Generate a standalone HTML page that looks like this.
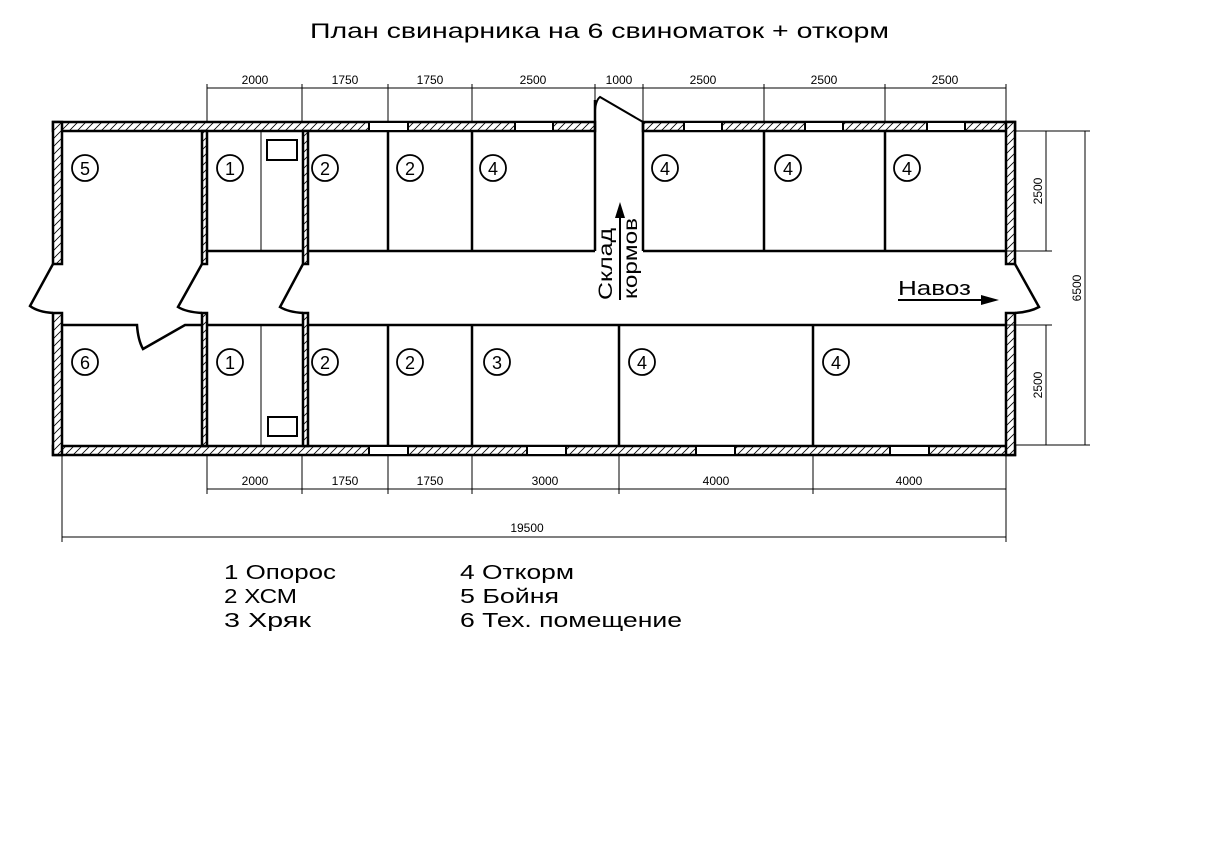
<!DOCTYPE html>
<html><head><meta charset="utf-8"><style>html,body{margin:0;padding:0;background:#fff}svg{display:block}</style></head>
<body>
<svg width="1213" height="863" viewBox="0 0 1213 863" xmlns="http://www.w3.org/2000/svg" font-family="Liberation Sans, DejaVu Sans, sans-serif">
<defs>
<pattern id="h" width="8" height="8" patternUnits="userSpaceOnUse">
<rect width="8" height="8" fill="#fff"/>
<path d="M0,8 L8,0 M-1,1 L1,-1 M7,9 L9,7" stroke="#000" stroke-width="0.8"/>
</pattern>
</defs>
<rect width="1213" height="863" fill="#fff"/>
<text x="310" y="38" font-size="21" textLength="579" lengthAdjust="spacingAndGlyphs">План свинарника на 6 свиноматок + откорм</text>

<g stroke="#000" stroke-width="2.5" fill="url(#h)">
<rect x="53" y="122" width="542" height="9"/>
<rect x="643" y="122" width="372" height="9"/>
<rect x="53" y="446" width="962" height="9"/>
<rect x="53" y="122" width="9" height="142"/>
<rect x="53" y="313" width="9" height="142"/>
<rect x="1006" y="122" width="9" height="142"/>
<rect x="1006" y="313" width="9" height="142"/>
<rect x="202" y="131" width="5" height="133"/>
<rect x="202" y="313" width="5" height="133"/>
<rect x="303" y="131" width="5" height="133"/>
<rect x="303" y="313" width="5" height="133"/>
</g>
<g fill="#fff" stroke="#000" stroke-width="2">
<rect x="369" y="122" width="39" height="9"/>
<rect x="515" y="122" width="38" height="9"/>
<rect x="684" y="122" width="38" height="9"/>
<rect x="805" y="122" width="38" height="9"/>
<rect x="927" y="122" width="38" height="9"/>
<rect x="369" y="446" width="39" height="9"/>
<rect x="527" y="446" width="39" height="9"/>
<rect x="696" y="446" width="39" height="9"/>
<rect x="890" y="446" width="39" height="9"/>
</g>

<g stroke="#000" stroke-width="2.5" fill="none">
<line x1="207" y1="251" x2="303" y2="251"/>
<line x1="308" y1="251" x2="595" y2="251"/>
<line x1="643" y1="251" x2="1006" y2="251"/>
<line x1="388" y1="131" x2="388" y2="251"/>
<line x1="472" y1="131" x2="472" y2="251"/>
<line x1="595" y1="100" x2="595" y2="251"/>
<line x1="643" y1="122" x2="643" y2="251"/>
<line x1="764" y1="131" x2="764" y2="251"/>
<line x1="885" y1="131" x2="885" y2="251"/>
<path d="M62,325 L137,325 Q138,340 143,349 L185,325 L202,325"/>
<line x1="207" y1="325" x2="303" y2="325"/>
<line x1="308" y1="325" x2="1006" y2="325"/>
<line x1="388" y1="325" x2="388" y2="446"/>
<line x1="472" y1="325" x2="472" y2="446"/>
<line x1="619" y1="325" x2="619" y2="446"/>
<line x1="813" y1="325" x2="813" y2="446"/>
<path d="M53,264 L30,306 Q38,312 53,313"/>
<path d="M202,264 L178,307 Q186,312 202,313"/>
<path d="M303,264 L280,307 Q288,312 303,313"/>
<path d="M1015,264 L1039,307 Q1030,312 1015,313"/>
<path d="M595,110 Q596,100 600,97 L643,122" stroke-width="2"/>
<rect x="267" y="140" width="30" height="20" stroke-width="2"/>
<rect x="268" y="417" width="29" height="19" stroke-width="2"/>
</g>
<g stroke="#000" stroke-width="1">
<line x1="261" y1="131" x2="261" y2="251"/>
<line x1="261" y1="325" x2="261" y2="446"/>
</g>

<g fill="none" stroke="#000" stroke-width="1.8">
<circle cx="85" cy="168" r="13"/><circle cx="230" cy="168" r="13"/><circle cx="325" cy="168" r="13"/><circle cx="410" cy="168" r="13"/><circle cx="493" cy="168" r="13"/><circle cx="665" cy="168" r="13"/><circle cx="788" cy="168" r="13"/><circle cx="907" cy="168" r="13"/>
<circle cx="85" cy="362" r="13"/><circle cx="230" cy="362" r="13"/><circle cx="325" cy="362" r="13"/><circle cx="410" cy="362" r="13"/><circle cx="497" cy="362" r="13"/><circle cx="642" cy="362" r="13"/><circle cx="836" cy="362" r="13"/>
</g>
<g font-size="18" text-anchor="middle">
<text x="85" y="175">5</text><text x="230" y="175">1</text><text x="325" y="175">2</text><text x="410" y="175">2</text><text x="493" y="175">4</text><text x="665" y="175">4</text><text x="788" y="175">4</text><text x="907" y="175">4</text>
<text x="85" y="369">6</text><text x="230" y="369">1</text><text x="325" y="369">2</text><text x="410" y="369">2</text><text x="497" y="369">3</text><text x="642" y="369">4</text><text x="836" y="369">4</text>
</g>

<line x1="620" y1="300" x2="620" y2="212" stroke="#000" stroke-width="2"/>
<polygon points="620,202 615,218 625,218" fill="#000"/>
<text transform="translate(612,300) rotate(-90)" font-size="19" textLength="72" lengthAdjust="spacingAndGlyphs">Склад</text>
<text transform="translate(637,299) rotate(-90)" font-size="19" textLength="81" lengthAdjust="spacingAndGlyphs">кормов</text>
<text x="898" y="295" font-size="20" textLength="73" lengthAdjust="spacingAndGlyphs">Навоз</text>
<line x1="898" y1="300" x2="985" y2="300" stroke="#000" stroke-width="2"/>
<polygon points="999,300 981,295 981,305" fill="#000"/>

<g stroke="#000" stroke-width="1" fill="none">
<line x1="207" y1="88" x2="1006" y2="88"/>
<line x1="207" y1="84" x2="207" y2="122"/><line x1="302" y1="84" x2="302" y2="122"/><line x1="388" y1="84" x2="388" y2="122"/><line x1="472" y1="84" x2="472" y2="122"/><line x1="595" y1="84" x2="595" y2="100"/><line x1="643" y1="84" x2="643" y2="122"/><line x1="764" y1="84" x2="764" y2="122"/><line x1="885" y1="84" x2="885" y2="122"/><line x1="1006" y1="84" x2="1006" y2="122"/>
<line x1="207" y1="489" x2="1006" y2="489"/>
<line x1="207" y1="455" x2="207" y2="494"/><line x1="302" y1="455" x2="302" y2="494"/><line x1="388" y1="455" x2="388" y2="494"/><line x1="472" y1="455" x2="472" y2="494"/><line x1="619" y1="455" x2="619" y2="494"/><line x1="813" y1="455" x2="813" y2="494"/><line x1="1006" y1="455" x2="1006" y2="542"/>
<line x1="62" y1="455" x2="62" y2="542"/>
<line x1="62" y1="537" x2="1006" y2="537"/>
<line x1="1015" y1="131" x2="1090" y2="131"/><line x1="1015" y1="445" x2="1090" y2="445"/>
<line x1="1006" y1="251" x2="1052" y2="251"/><line x1="1006" y1="325" x2="1052" y2="325"/>
<line x1="1046" y1="131" x2="1046" y2="251"/><line x1="1046" y1="325" x2="1046" y2="445"/>
<line x1="1085" y1="131" x2="1085" y2="445"/>
</g>
<g font-size="12" text-anchor="middle">
<text x="255" y="84">2000</text><text x="345" y="84">1750</text><text x="430" y="84">1750</text><text x="533" y="84">2500</text><text x="619" y="84">1000</text><text x="703" y="84">2500</text><text x="824" y="84">2500</text><text x="945" y="84">2500</text>
<text x="255" y="485">2000</text><text x="345" y="485">1750</text><text x="430" y="485">1750</text><text x="545" y="485">3000</text><text x="716" y="485">4000</text><text x="909" y="485">4000</text>
<text x="527" y="532">19500</text>
<text transform="translate(1042,191) rotate(-90)">2500</text>
<text transform="translate(1042,385) rotate(-90)">2500</text>
<text transform="translate(1081,288) rotate(-90)">6500</text>
</g>

<g font-size="20">
<text x="224" y="579" textLength="112" lengthAdjust="spacingAndGlyphs">1 Опорос</text>
<text x="224" y="603" textLength="73" lengthAdjust="spacingAndGlyphs">2 ХСМ</text>
<text x="224" y="627" textLength="87" lengthAdjust="spacingAndGlyphs">3 Хряк</text>
<text x="460" y="579" textLength="114" lengthAdjust="spacingAndGlyphs">4 Откорм</text>
<text x="460" y="603" textLength="99" lengthAdjust="spacingAndGlyphs">5 Бойня</text>
<text x="460" y="627" textLength="222" lengthAdjust="spacingAndGlyphs">6 Тех. помещение</text>
</g>
</svg>
</body></html>
